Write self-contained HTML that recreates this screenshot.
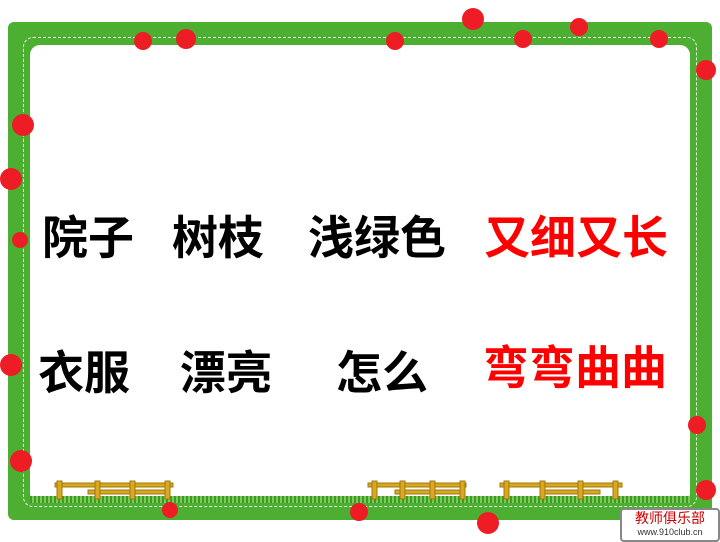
<!DOCTYPE html>
<html><head><meta charset="utf-8"><style>
html,body{margin:0;padding:0;}
body{width:720px;height:540px;position:relative;overflow:hidden;background:#fff;font-family:"Liberation Sans","Noto Sans CJK SC",sans-serif;}
.frame{position:absolute;left:8px;top:22px;width:704px;height:498px;background:#4caf32;border-radius:6px;}
.dash{position:absolute;left:23px;top:37px;width:672px;height:468px;border:1px dashed #e8f5e0;border-radius:10px;}
.inner{position:absolute;left:30px;top:45px;width:660px;height:458px;background:#fff;border-radius:10px;}
.dot{position:absolute;width:22px;height:22px;border-radius:50%;background:#ee1c25;}
.w{position:absolute;font-size:46px;font-weight:bold;color:#000;white-space:nowrap;line-height:1;}
.r{color:#f00;}
.grass{position:absolute;left:30px;top:496px;width:660px;height:7px;background:repeating-linear-gradient(90deg,#3d9a25 0 2px,#7ccb5a 2px 4px);}
.logo{position:absolute;left:620px;top:508px;width:96px;height:30px;border:2px solid #888;border-radius:4px;background:#fff;font-size:11px;color:#c00;text-align:center;line-height:13px;}
</style></head><body>
<div class="frame"></div>
<div class="dash"></div>
<div class="inner"></div>
<div class="grass"></div>
<svg style="position:absolute;left:0;top:0" width="720" height="540">
<g fill="#d9a81e" stroke="#a07810" stroke-width="1">
<g><rect x="55" y="483" width="118" height="4"/><rect x="88" y="490" width="80" height="4"/><rect x="57" y="481" width="5" height="18"/><rect x="95" y="481" width="5" height="18"/><rect x="130" y="481" width="5" height="18"/><rect x="165" y="481" width="5" height="18"/></g>
<g><rect x="368" y="483" width="98" height="4"/><rect x="395" y="490" width="70" height="4"/><rect x="372" y="481" width="5" height="18"/><rect x="400" y="481" width="5" height="18"/><rect x="430" y="481" width="5" height="18"/><rect x="460" y="481" width="5" height="18"/></g>
<g><rect x="500" y="483" width="122" height="4"/><rect x="540" y="490" width="60" height="4"/><rect x="504" y="481" width="5" height="18"/><rect x="540" y="481" width="5" height="18"/><rect x="578" y="481" width="5" height="18"/><rect x="613" y="481" width="5" height="18"/></g>
</g></svg>
<div class="dot" style="left:462px;top:8px"></div>
<div class="dot" style="left:570px;top:18px;width:18px;height:18px"></div>
<div class="dot" style="left:134px;top:32px;width:18px;height:18px"></div>
<div class="dot" style="left:176px;top:29px;width:20px;height:20px"></div>
<div class="dot" style="left:386px;top:32px;width:18px;height:18px"></div>
<div class="dot" style="left:514px;top:30px;width:18px;height:18px"></div>
<div class="dot" style="left:650px;top:30px;width:18px;height:18px"></div>
<div class="dot" style="left:696px;top:60px;width:20px;height:20px"></div>
<div class="dot" style="left:12px;top:114px"></div>
<div class="dot" style="left:0px;top:168px"></div>
<div class="dot" style="left:12px;top:232px;width:16px;height:16px"></div>
<div class="dot" style="left:0px;top:354px"></div>
<div class="dot" style="left:10px;top:450px"></div>
<div class="dot" style="left:688px;top:416px;width:18px;height:18px"></div>
<div class="dot" style="left:696px;top:480px;width:20px;height:20px"></div>
<div class="dot" style="left:162px;top:502px;width:16px;height:16px"></div>
<div class="dot" style="left:350px;top:503px;width:18px;height:18px"></div>
<div class="dot" style="left:477px;top:512px"></div>
<div class="w" style="left:42px;top:215px">院子</div>
<div class="w" style="left:172px;top:215px">树枝</div>
<div class="w" style="left:308px;top:215px">浅绿色</div>
<div class="w r" style="left:484px;top:215px">又细又长</div>
<div class="w" style="left:38px;top:350px">衣服</div>
<div class="w" style="left:180px;top:350px">漂亮</div>
<div class="w" style="left:336px;top:350px">怎么</div>
<div class="w r" style="left:483px;top:345px">弯弯曲曲</div>
<div class="logo"><div style="font-size:14px;line-height:16px">教师俱乐部</div><div style="color:#333;font-size:9px">www.910club.cn</div></div>
</body></html>
